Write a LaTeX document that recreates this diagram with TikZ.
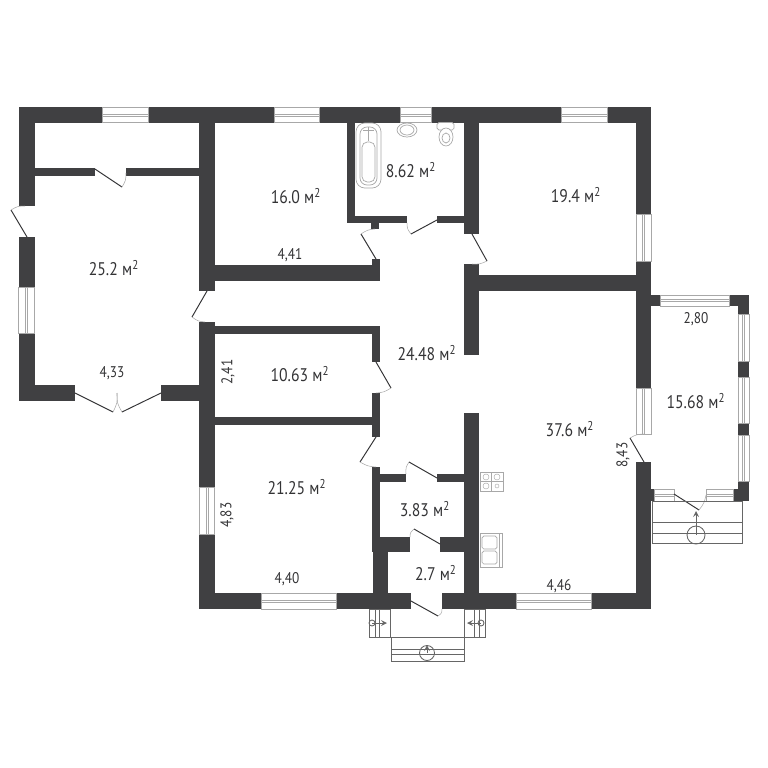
\documentclass[tikz,border=0pt]{standalone}
\usepackage{fontspec}
\setmainfont{PT Sans}[FakeStretch=0.86]
\usepackage{xcolor}
\usetikzlibrary{calc}
\definecolor{wallc}{HTML}{404042}
\definecolor{framec}{HTML}{A8A8A8}
\definecolor{inkc}{HTML}{333335}
\begin{document}
\begin{tikzpicture}[
		x=0.02cm, y=-0.02cm,
		wall/.style={fill=wallc, draw=none},
		winbox/.style={draw=framec, fill=white, line width=0.35pt},
		winline/.style={draw=framec, line width=0.25pt},
		leaf/.style={draw=inkc, line width=0.55pt},
		swing/.style={draw=framec, line width=0.3pt},
		fixture/.style={draw=framec, line width=0.4pt, fill=white},
		stair/.style={draw=black!60, line width=0.5pt},
		area/.style={text=inkc, font=\fontsize{10.4}{12}\selectfont, inner sep=0pt},
		dim/.style={text=inkc, font=\fontsize{8.8}{10}\selectfont, inner sep=0pt}
		]
		\useasboundingbox (0,0) rectangle (768,768);
		% walls
		\foreach \xa/\ya/\xb/\yb in {18.5/107/102/122.5, 148/107/274/122.5, 319/107/400/122.5, 431/107/561/122.5, 607/107/651/122.5,
			18.5/107/34.5/206, 18.5/237/34.5/287, 18.5/333/34.5/401, 18.5/385/75/401, 161/385/199/401,
			34.5/168/95/176, 126/168/199/176,
			199/107/214.5/291, 199/322/214.5/487, 199/534/214.5/609,
			214/265/380/281, 372/259/380/265,
			347/107/355/223, 347/216/407/223, 371/223/379/229, 437/216/464/223,
			464/107/479/234, 464/264/479/355, 479/275/636/291,
			636/107/651/214, 636/261/651/388, 636/462/651/609,
			651/295/660/306, 729/295/749/306, 738/295/749/314,
			738/361/749/377, 738/423/749/435, 738/481/749/501, 733/489/749/501, 651/489/654/501,
			199/593/261/609, 336/593/411/609, 442/593/516/609, 591/593/651/609,
			214/326/380/334, 372/326/380/362, 372/393/380/437, 214/417/372/425,
			372/467/380/552, 373/552/388/593, 372/537/410/552, 440/537/464/552,
			380/474/406/482, 437/474/464/482, 464/413/479/593}
		\fill[wall] (\xa,\ya) rectangle (\xb,\yb);
		% windows along x
		\foreach \xa/\xb/\ya/\yb in {102/148/107/122.5, 274/319/107/122.5, 400/431/107/122.5, 561/607/107/122.5,
			261/336/593/609, 516/591/593/609, 660/729/295/306, 654/674/489/501, 706/733/489/501} {
			\draw[winbox] (\xa,\ya) rectangle (\xb,\yb);
			\draw[winline] (\xa,{(\ya+\yb)/2-1}) -- (\xb,{(\ya+\yb)/2-1});
			\draw[winline] (\xa,{(\ya+\yb)/2+1}) -- (\xb,{(\ya+\yb)/2+1});
		}
		% windows along y
		\foreach \xa/\xb/\ya/\yb in {18.5/34.5/287/333, 636/651/214/261, 636/651/388/434, 199/214.5/487/534,
			738/749/314/361, 738/749/377/423, 738/749/435/481} {
			\draw[winbox] (\xa,\ya) rectangle (\xb,\yb);
			\draw[winline] ({(\xa+\xb)/2-1},\ya) -- ({(\xa+\xb)/2-1},\yb);
			\draw[winline] ({(\xa+\xb)/2+1},\ya) -- ({(\xa+\xb)/2+1},\yb);
		}
		% doors: hinge, tip of the leaf, jamb
		\foreach \hx/\hy/\tx/\ty/\ex/\ey in {95/169/122/187/126/173, 27/237/11/210/25/206, 75/393/113/412/117/393, 161/393/122/412/117/393,
			207/291/192/317/205/322, 376/259/361/234/375/229, 437/220/411/234/407/223, 472/234/487/261/472/264,
			376/362/391/388/376/393, 376/437/360/462/376/467, 437/478/409/462/406/474, 440/544/414/529/410/537,
			411/601/438/616/442/609, 644/462/630/438/644/434, 674/494/699/510/706/495} {
			\draw[leaf] (\hx,\hy) -- (\tx,\ty);
			\draw[swing] (\tx,\ty) .. controls ($(\hx,\hy)!1.06!($(\tx,\ty)!.5!(\ex,\ey)$)$) .. (\ex,\ey);
		}
		% bath, basin, toilet
		\draw[fixture, rounded corners=5] (356,123) rectangle (381,188);
		\draw[fixture, rounded corners=4] (360,127) rectangle (377,185);
		\draw[fixture, rounded corners=3] (362,142) rectangle (375,182);
		\draw[winline] (363,130) -- (374,130) (368.5,127) -- (368.5,141);
		\draw[fixture] (407,130) ellipse (10 and 7);
		\draw[fixture] (407,130) ellipse (7 and 5);
		\draw[fixture, rounded corners=1] (437,122.5) rectangle (454,130);
		\draw[fixture] (446,137) ellipse (7 and 9);
		\draw[fixture] (446,138) ellipse (4 and 5);
		% stove and sink
		\draw[fixture] (480,472) rectangle (503,491);
		\draw[winline] (491.5,472) -- (491.5,491) (480,481.5) -- (503,481.5);
		\foreach \cx/\cy/\cr in {486/477/3, 497/477/3, 486/486/3, 497/486/2} \draw[winline] (\cx,\cy) circle (\cr);
		\draw[fixture] (480,533) rectangle (502,567);
		\draw[winline] (499,533) -- (499,567);
		\draw[fixture, rounded corners=1] (482,536) rectangle (497,549);
		\draw[fixture, rounded corners=1] (482,551) rectangle (497,564);
		% porch at the entrance
		\draw[stair] (369,609) rectangle (390,637);
		\draw[stair] (464,609) rectangle (485,637);
		\draw[stair] (375,609) -- (375,637) (379,609) -- (379,637) (474,609) -- (474,637) (479,609) -- (479,637);
		\draw[stair] (372,623) circle (3);
		\draw[stair] (481,623) circle (3);
		\draw[stair, ->, >=stealth] (372,623) -- (387,623);
		\draw[stair, ->, >=stealth] (481,623) -- (467,623);
		\draw[stair] (391,637) rectangle (464,661);
		\draw[stair] (391,649) -- (464,649) (391,654) -- (464,654);
		\draw[stair] (427,653) circle (7.5);
		\draw[stair, ->, >=stealth] (427,653) -- (427,645);
		% steps of the veranda
		\draw[stair] (652,501) rectangle (742,543);
		\draw[stair] (652,522) -- (742,522) (652,533) -- (742,533);
		\draw[stair] (696,535) circle (9);
		\draw[stair, ->, >=stealth] (696,535) -- (696,511);
		% areas
		\node[area] (room1) at (114,268) {25.2 м\textsuperscript{2}};
		\node[area] (room2) at (296,196) {16.0 м\textsuperscript{2}};
		\node[area] (room3) at (411,170) {8.62 м\textsuperscript{2}};
		\node[area] (room4) at (576,195) {19.4 м\textsuperscript{2}};
		\node[area] (hall) at (427,353) {24.48 м\textsuperscript{2}};
		\node[area] (room5) at (300,374) {10.63 м\textsuperscript{2}};
		\node[area] (room6) at (297,487) {21.25 м\textsuperscript{2}};
		\node[area] (room7) at (425,509) {3.83 м\textsuperscript{2}};
		\node[area] (room8) at (436,573) {2.7 м\textsuperscript{2}};
		\node[area] (room9) at (570,429) {37.6 м\textsuperscript{2}};
		\node[area] (room10) at (696,401) {15.68 м\textsuperscript{2}};
		% dimensions
		\node[dim] (d1) at (290,255) {4,41};
		\node[dim] (d2) at (112,373) {4,33};
		\node[dim, rotate=90] (d3) at (228,372) {2,41};
		\node[dim, rotate=90] (d4) at (227,515) {4,83};
		\node[dim] (d5) at (287,579) {4,40};
		\node[dim] (d6) at (559,586) {4,46};
		\node[dim] (d7) at (696,319) {2,80};
		\node[dim, rotate=90] (d8) at (623,455) {8,43};
\end{tikzpicture}
\end{document}
